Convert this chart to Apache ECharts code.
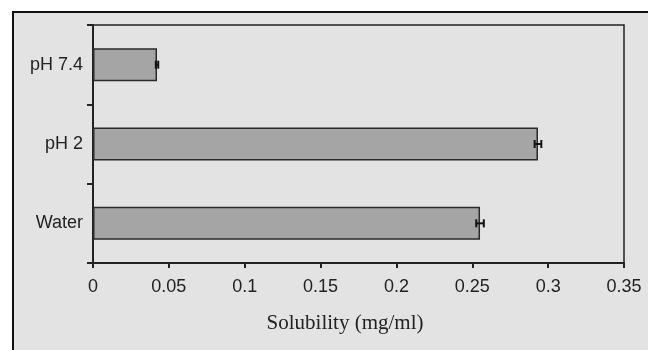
<!DOCTYPE html>
<html>
<head>
<meta charset="utf-8">
<script src="https://cdn.jsdelivr.net/npm/echarts@6/dist/echarts.min.js"></script>
<style>
  html, body { margin: 0; padding: 0; background: #fff; }
  #chart { width: 648px; height: 350px; }
</style>
</head>
<body>
<div id="chart"></div>
<script>
// data
var categories = ['Water', 'pH 2', 'pH 7.4'];
var solubility = [0.2551, 0.2933, 0.0422];
var errors = [0.0025, 0.0022, 0.0008];
var xTicks = { min: 0, max: 0.35, interval: 0.05 };

var chart = echarts.init(document.getElementById('chart'));

var errData = solubility.map(function (v, i) { return [i, v, errors[i]]; });

var option = {
    animation: false,
    backgroundColor: '#fff',
    graphic: [
        { type: 'rect', z: -10, shape: { x: 12, y: 11, width: 640, height: 345 }, style: { fill: '#e3e3e3' } },
        { type: 'line', z: -9, shape: { x1: 13, y1: 11, x2: 13, y2: 350 }, style: { stroke: '#111', lineWidth: 2 } },
        { type: 'line', z: -9, shape: { x1: 12, y1: 12, x2: 648, y2: 12 }, style: { stroke: '#111', lineWidth: 2 } }
    ],
    grid: {
        left: 93,
        top: 25,
        right: 24,
        bottom: 87,
        show: true,
        borderColor: '#222',
        borderWidth: 1.5,
        backgroundColor: 'transparent'
    },
    xAxis: {
        type: 'value',
        min: xTicks.min,
        max: xTicks.max,
        interval: xTicks.interval,
        splitLine: { show: false },
        axisLine: { show: true, lineStyle: { color: '#222', width: 2 } },
        axisTick: { show: true, length: 5, lineStyle: { color: '#222', width: 2 } },
        axisLabel: {
            color: '#222',
            fontFamily: 'Liberation Sans, Arial',
            fontSize: 18,
            margin: 15
        },
        name: 'Solubility (mg/ml)',
        nameLocation: 'middle',
        nameGap: 50,
        nameTextStyle: {
            color: '#222',
            fontFamily: 'Liberation Serif, Times New Roman',
            fontSize: 21,
            padding: [0, 27, 0, 0]
        }
    },
    yAxis: {
        type: 'category',
        data: categories,
        axisLine: { show: true, lineStyle: { color: '#222', width: 2 } },
        axisTick: { show: true, length: 6, lineStyle: { color: '#222', width: 2 } },
        axisLabel: {
            color: '#222',
            fontFamily: 'Liberation Sans, Arial',
            fontSize: 18,
            margin: 10
        }
    },
    series: [
        {
            type: 'bar',
            data: solubility,
            barWidth: 33,
            itemStyle: {
                color: '#a5a5a5',
                borderColor: '#2a2a2a',
                borderWidth: 1.5
            }
        },
        {
            type: 'custom',
            data: errData,
            encode: { x: 1, y: 0 },
            z: 10,
            renderItem: function (params, api) {
                var cat = api.value(0), v = api.value(1), e = api.value(2);
                var lo = api.coord([v - e, cat]);
                var hi = api.coord([v + e, cat]);
                var h = 4;
                var st = { stroke: '#111', lineWidth: 2 };
                return {
                    type: 'group',
                    children: [
                        { type: 'line', shape: { x1: lo[0], y1: lo[1], x2: hi[0], y2: hi[1] }, style: st },
                        { type: 'line', shape: { x1: lo[0], y1: lo[1] - h, x2: lo[0], y2: lo[1] + h }, style: st },
                        { type: 'line', shape: { x1: hi[0], y1: hi[1] - h, x2: hi[0], y2: hi[1] + h }, style: st }
                    ]
                };
            }
        }
    ]
};
chart.setOption(option);
</script>
</body>
</html>
